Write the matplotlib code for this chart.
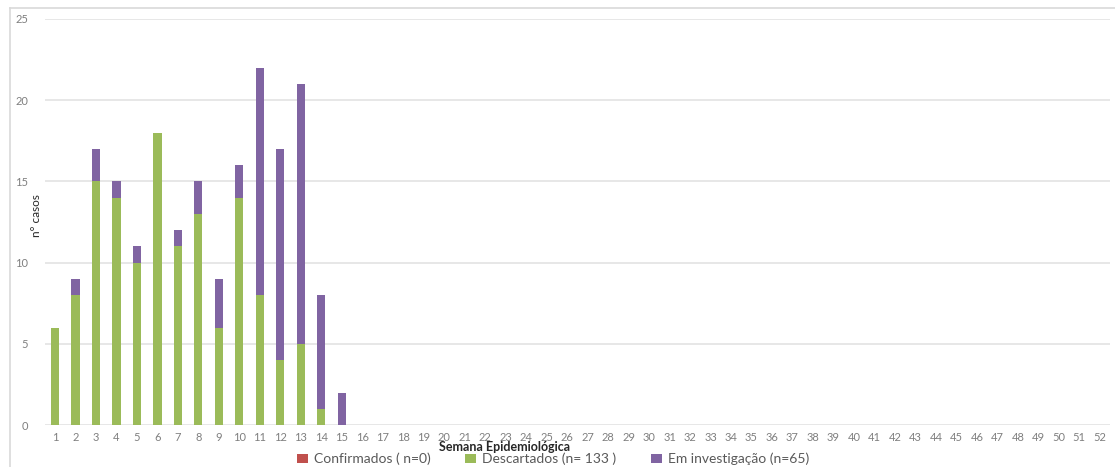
import matplotlib
matplotlib.use("Agg")
import matplotlib.pyplot as plt
from matplotlib.lines import Line2D
from matplotlib.patches import Patch
import numpy as np

plt.rcParams['font.family'] = ['Lato', 'DejaVu Sans']

weeks = list(range(1, 53))
confirmados = [0] * 52
descartados = [6, 8, 15, 14, 10, 18, 11, 13, 6, 14, 8, 4, 5, 1, 0] + [0] * 37
investigacao = [0, 1, 2, 1, 1, 0, 1, 2, 3, 2, 14, 13, 16, 7, 2] + [0] * 37
labels = ["Confirmados ( n=0)", "Descartados (n= 133 )", "Em investigação (n=65)"]
colors = ["#C0504D", "#9BBB59", "#8064A2"]

W, H = 1115, 467
fig = plt.figure(figsize=(W / 100, H / 100), dpi=100)
ax = fig.add_axes([44.75 / W, 1 - 425 / H, (1110 - 44.75) / W, (425 - 19) / H])

x = np.array(weeks)
conf = np.array(confirmados)
desc = np.array(descartados)
inv = np.array(investigacao)
bw = 0.4
ax.bar(x, conf, bw, color=colors[0], zorder=3)
ax.bar(x, desc, bw, bottom=conf, color=colors[1], zorder=3)
ax.bar(x, inv, bw, bottom=conf + desc, color=colors[2], zorder=3)

ax.set_xlim(0.5, 52.5)
ax.set_ylim(0, 25)
ax.set_yticks([0, 5, 10, 15, 20, 25])
ax.set_xticks(weeks)
ax.grid(axis='y', color='#E3E3E3', linewidth=1.2, zorder=0)
for s in ax.spines.values():
    s.set_visible(False)
ax.tick_params(axis='both', length=0, labelsize=8, labelcolor='#7F7F7F')
ax.tick_params(axis='y', pad=12)
ax.tick_params(axis='x', pad=5)

fig.text(36 / W, 1 - 216 / H, "n° casos", rotation=90, ha='center', va='center',
         fontsize=8.5, color='#262626')

fig.text(505 / W, 1 - 447 / H, "Semana Epidemiológica", ha='center', va='center',
         fontsize=9, color='#262626', fontweight='bold')

handles = [Patch(facecolor=c, edgecolor='none') for c in colors]
fig.legend(handles, labels, loc='center', bbox_to_anchor=(553 / W, 1 - 459 / H),
           ncol=3, frameon=False, fontsize=10, labelcolor='#595959',
           handlelength=0.8, handleheight=0.7, columnspacing=2.5, handletextpad=0.4)

fig.add_artist(Line2D([10 / W, 10 / W], [0, 1 - 8 / H], color='#D9D9D9', lw=1.2,
                      transform=fig.transFigure))
fig.add_artist(Line2D([10 / W, 1], [1 - 8 / H, 1 - 8 / H], color='#D9D9D9', lw=1.2,
                      transform=fig.transFigure))

fig.savefig("out.png", dpi=100)
